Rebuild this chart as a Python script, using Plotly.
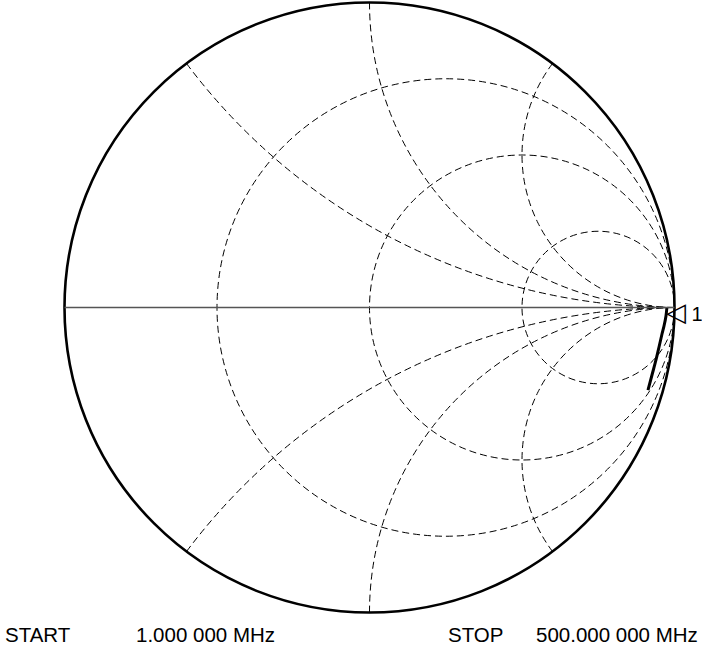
import plotly.graph_objects as go

# Grid values of the Smith chart (normalized)
resistance_circles = [1 / 3, 1, 3]
reactance_arcs = [-2, -1, -0.5, 0.5, 1, 2]

# Measured sweep, normalized impedance z = r + jx (1 MHz ... 500 MHz)
z_real = [79.0, 34.8, 13.14, 7.88, 4.25, 2.65, 1.712, 1.153]
z_imag = [0.0, -35.8, -24.94, -18.82, -13.39, -10.34, -8.133, -6.70]

# Marker 1 sits on the second sweep point
marker_index = 1
marker_label = "1"

start_label, start_value = "START", "1.000 000 MHz"
stop_label, stop_value = "STOP", "500.000 000 MHz"

W, H = 702, 647
FONT = "Liberation Sans, Arial, sans-serif"

fig = go.Figure()

fig.add_trace(go.Scattersmith(
    real=z_real, imag=z_imag,
    mode="lines",
    line=dict(color="black", width=3, shape="spline"),
    hoverinfo="skip",
    showlegend=False,
))

fig.add_trace(go.Scattersmith(
    real=[z_real[marker_index]], imag=[z_imag[marker_index]],
    mode="text",
    text=['<span style="font-family:DejaVu Sans;font-size:26px">\u25c1</span>'
          '<span style="font-size:20px"> ' + marker_label + '</span>'],
    textposition="middle right",
    textfont=dict(family=FONT, size=20, color="black"),
    hoverinfo="skip",
    showlegend=False,
))

grid_common = dict(
    showgrid=True, gridcolor="black", griddash="7px,4px", gridwidth=1.3,
    showticklabels=False, ticks="",
)

fig.update_layout(
    width=W, height=H,
    margin=dict(l=0, r=0, t=0, b=0),
    paper_bgcolor="white",
    plot_bgcolor="white",
    showlegend=False,
    smith=dict(
        domain=dict(x=[64.5 / W, 674.5 / W], y=[(H - 612.5) / H, (H - 2.5) / H]),
        bgcolor="white",
        realaxis=dict(
            tickvals=resistance_circles,
            showline=True, linecolor="#555555", linewidth=1.6,
            **grid_common,
        ),
        imaginaryaxis=dict(
            tickvals=reactance_arcs,
            showline=True, linecolor="black", linewidth=2.6,
            **grid_common,
        ),
    ),
)

text_y = (H - 634.5) / H
for x_px, txt in [(3, start_label), (134, start_value), (446, stop_label), (534, stop_value)]:
    fig.add_annotation(
        x=x_px / W, y=text_y, xref="paper", yref="paper",
        xanchor="left", yanchor="middle", showarrow=False,
        text=txt, font=dict(family=FONT, size=20.5, color="black"),
    )

fig.write_html("out.html")
